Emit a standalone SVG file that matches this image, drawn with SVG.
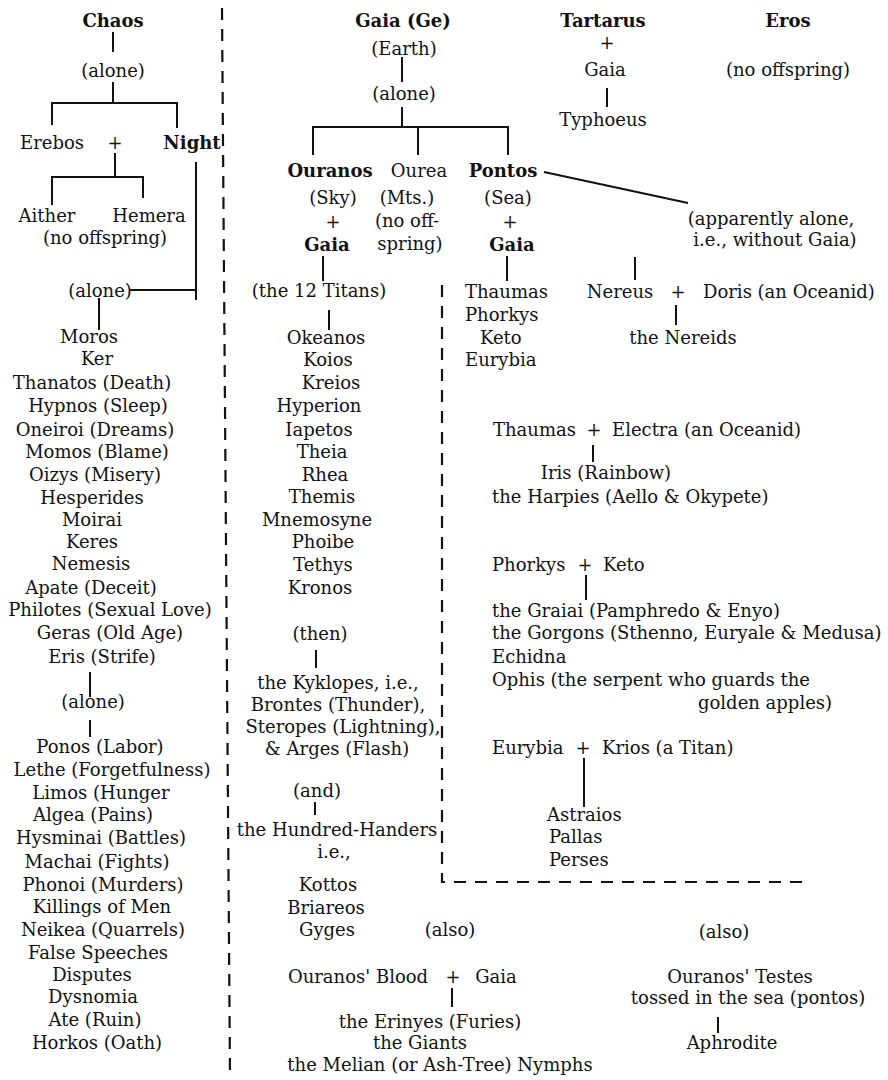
<svg xmlns="http://www.w3.org/2000/svg" width="888" height="1080" viewBox="0 0 888 1080">
<style>
text{font-family:"DejaVu Serif","Liberation Serif",serif;font-size:18px;fill:#111;text-anchor:middle}
.b{font-weight:bold}
.l{text-anchor:start}
.c{stroke:#111;stroke-width:2;fill:none}
.d{stroke:#111;stroke-width:2.2;fill:none;stroke-dasharray:12 9}
</style>
<rect width="888" height="1080" fill="#fff"/>
<g id="connectors">
<path class="c" d="M113 32V52M113 82V103M52 125V103H177V128M115 153V177M52 205V177H143V198M196 162V300M130 290H196M99 298V330"/>
<path class="c" d="M90 672V697M90 720V737"/>
<path class="c" d="M402 57V82M402 107V127M313 155V127H508V155M418 127V155M323 256V281M507 256V281M329 310V330M316 650V668M315 802V815"/>
<path class="c" d="M544 172L688 203M635 257V280M676 305V325M593 445V462M586 575V600M584 758V807"/>
<path class="c" d="M607 88V107M452 988V1007M718 1017V1033"/>
<path class="d" d="M222 8L230 1075"/>
<path class="d" d="M442 285V882H808"/>
</g>
<g id="chaos"><text class="b" x="113" y="27">Chaos</text></g>
<g id="chaos-alone"><text x="113" y="77">(alone)</text></g>
<g id="erebos-night"><text x="52" y="149">Erebos</text><text x="115" y="149">+</text><text class="b" x="192" y="149">Night</text></g>
<g id="aither-hemera"><text x="47" y="222">Aither</text><text x="149" y="222">Hemera</text><text x="105" y="244">(no offspring)</text></g>
<g id="night-alone"><text x="100" y="297">(alone)</text></g>
<g id="night-children">
<text x="89" y="343">Moros</text>
<text x="97" y="365">Ker</text>
<text x="92" y="389">Thanatos (Death)</text>
<text x="98" y="412">Hypnos  (Sleep)</text>
<text x="95" y="436">Oneiroi  (Dreams)</text>
<text x="97" y="458">Momos (Blame)</text>
<text x="95" y="481">Oizys  (Misery)</text>
<text x="92" y="504">Hesperides</text>
<text x="92" y="526">Moirai</text>
<text x="92" y="548">Keres</text>
<text x="91" y="570">Nemesis</text>
<text x="91" y="594">Apate (Deceit)</text>
<text x="110" y="616">Philotes (Sexual Love)</text>
<text x="110" y="639">Geras (Old Age)</text>
<text x="102" y="663">Eris (Strife)</text>
</g>
<g id="eris-alone"><text x="93" y="708">(alone)</text></g>
<g id="eris-children">
<text x="100" y="753">Ponos (Labor)</text>
<text x="112" y="776">Lethe (Forgetfulness)</text>
<text x="101" y="799">Limos (Hunger</text>
<text x="93" y="821">Algea (Pains)</text>
<text x="101" y="844">Hysminai (Battles)</text>
<text x="97" y="868">Machai (Fights)</text>
<text x="103" y="891">Phonoi (Murders)</text>
<text x="102" y="913">Killings of Men</text>
<text x="103" y="936">Neikea (Quarrels)</text>
<text x="98" y="959">False Speeches</text>
<text x="92" y="981">Disputes</text>
<text x="93" y="1003">Dysnomia</text>
<text x="95" y="1026">Ate (Ruin)</text>
<text x="97" y="1049">Horkos (Oath)</text>
</g>
<g id="gaia"><text class="b" x="403" y="27">Gaia (Ge)</text><text x="404" y="55">(Earth)</text></g>
<g id="gaia-alone"><text x="404" y="100">(alone)</text></g>
<g id="ouranos"><text class="b" x="330" y="177">Ouranos</text><text x="333" y="204">(Sky)</text><text x="333" y="228">+</text><text class="b" x="327" y="251">Gaia</text></g>
<g id="ourea"><text x="419" y="177">Ourea</text><text x="407" y="204">(Mts.)</text><text x="407" y="227">(no off-</text><text x="410" y="250">spring)</text></g>
<g id="pontos"><text class="b" x="503" y="177">Pontos</text><text x="508" y="204">(Sea)</text><text x="510" y="228">+</text><text class="b" x="512" y="251">Gaia</text></g>
<g id="titans">
<text x="319" y="297">(the 12 Titans)</text>
<text x="326" y="344">Okeanos</text>
<text x="328" y="366">Koios</text>
<text x="331" y="389">Kreios</text>
<text x="319" y="412">Hyperion</text>
<text x="319" y="436">Iapetos</text>
<text x="322" y="458">Theia</text>
<text x="325" y="481">Rhea</text>
<text x="322" y="503">Themis</text>
<text x="317" y="526">Mnemosyne</text>
<text x="323" y="548">Phoibe</text>
<text x="323" y="571">Tethys</text>
<text x="320" y="594">Kronos</text>
</g>
<g id="kyklopes">
<text x="320" y="640">(then)</text>
<text x="338" y="689">the Kyklopes, i.e.,</text>
<text x="338" y="711">Brontes (Thunder),</text>
<text x="343" y="733">Steropes (Lightning),</text>
<text x="337" y="755">&amp; Arges (Flash)</text>
</g>
<g id="hundred-handers">
<text x="317" y="797">(and)</text>
<text x="337" y="836">the Hundred-Handers</text>
<text x="334" y="858">i.e.,</text>
<text x="328" y="891">Kottos</text>
<text x="326" y="914">Briareos</text>
<text x="327" y="936">Gyges</text>
</g>
<g id="tartarus"><text class="b" x="603" y="27">Tartarus</text><text x="607" y="49">+</text><text x="605" y="76">Gaia</text><text x="603" y="126">Typhoeus</text></g>
<g id="eros"><text class="b" x="788" y="27">Eros</text><text x="788" y="76">(no offspring)</text></g>
<g id="pontos-alone"><text x="771" y="225">(apparently alone,</text><text x="775" y="246">i.e., without Gaia)</text></g>
<g id="pontos-gaia-children">
<text class="l" x="465" y="298">Thaumas</text>
<text class="l" x="465" y="321">Phorkys</text>
<text class="l" x="480" y="344">Keto</text>
<text class="l" x="465" y="366">Eurybia</text>
</g>
<g id="nereus"><text x="620" y="298">Nereus</text><text x="678" y="298">+</text><text class="l" x="703" y="298">Doris (an Oceanid)</text><text x="683" y="344">the Nereids</text></g>
<g id="thaumas"><text class="l" x="493" y="436">Thaumas</text><text x="594" y="436">+</text><text class="l" x="612" y="436">Electra (an Oceanid)</text>
<text x="606" y="479">Iris (Rainbow)</text><text class="l" x="492" y="503">the Harpies (Aello &amp; Okypete)</text></g>
<g id="phorkys"><text class="l" x="492" y="571">Phorkys</text><text x="585" y="571">+</text><text class="l" x="603" y="571">Keto</text>
<text class="l" x="492" y="617">the Graiai (Pamphredo &amp; Enyo)</text>
<text class="l" x="492" y="639">the Gorgons (Sthenno, Euryale &amp; Medusa)</text>
<text class="l" x="492" y="663">Echidna</text>
<text class="l" x="492" y="686">Ophis (the serpent who guards the</text>
<text class="l" x="698" y="709">golden apples)</text></g>
<g id="eurybia"><text class="l" x="492" y="754">Eurybia</text><text x="583" y="754">+</text><text class="l" x="602" y="754">Krios (a Titan)</text>
<text class="l" x="547" y="821">Astraios</text><text class="l" x="549" y="843">Pallas</text><text class="l" x="549" y="866">Perses</text></g>
<g id="blood"><text x="450" y="936">(also)</text><text x="358" y="983">Ouranos' Blood</text><text x="453" y="983">+</text><text x="496" y="983">Gaia</text>
<text x="430" y="1028">the Erinyes (Furies)</text><text x="420" y="1049">the Giants</text><text x="440" y="1071">the Melian (or Ash-Tree) Nymphs</text></g>
<g id="testes"><text x="724" y="938">(also)</text><text x="740" y="983">Ouranos' Testes</text><text x="748" y="1004">tossed in the sea (pontos)</text><text x="732" y="1049">Aphrodite</text></g>
</svg>
